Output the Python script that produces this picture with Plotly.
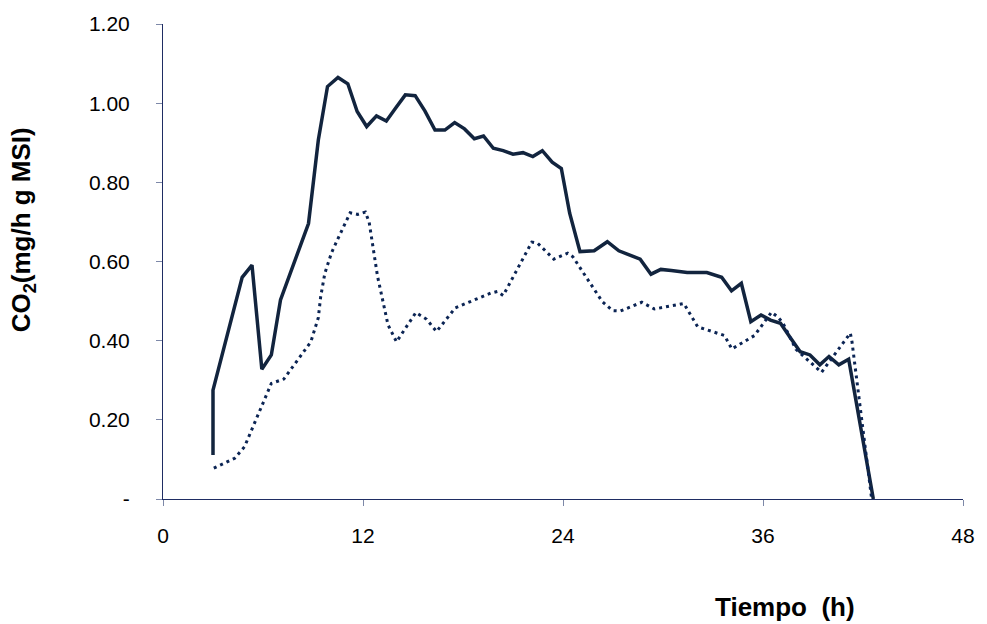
import plotly.graph_objects as go

# Solid curve: CO2 production rate over time
hours_a = [3.0, 3.0, 4.75, 5.34, 5.93, 6.50, 7.05, 8.73, 9.32, 9.87, 10.50, 11.09,
           11.65, 12.22, 12.81, 13.40, 13.95, 14.54, 15.13, 15.72, 16.32, 16.91,
           17.50, 18.09, 18.68, 19.23, 19.82, 20.41, 21.00, 21.60, 22.19, 22.76,
           23.35, 23.90, 24.40, 25.02, 25.87, 26.66, 27.35, 28.63, 29.28, 29.87,
           30.50, 31.45, 32.63, 33.52, 34.11, 34.70, 35.27, 35.88, 36.45, 37.05,
           37.60, 38.23, 38.82, 39.41, 39.96, 40.55, 41.14, 42.62]
co2_a = [0.111, 0.275, 0.560, 0.591, 0.328, 0.364, 0.503, 0.696, 0.907, 1.042, 1.065,
         1.049, 0.979, 0.941, 0.968, 0.955, 0.987, 1.021, 1.019, 0.980, 0.932, 0.932,
         0.951, 0.935, 0.910, 0.917, 0.886, 0.880, 0.871, 0.875, 0.865, 0.880, 0.851,
         0.835, 0.722, 0.625, 0.627, 0.650, 0.627, 0.606, 0.568, 0.580, 0.577, 0.572,
         0.572, 0.560, 0.526, 0.545, 0.448, 0.465, 0.452, 0.444, 0.410, 0.372, 0.364,
         0.339, 0.360, 0.339, 0.353, 0.0]

# Dotted curve: second treatment
hours_b = [3.05, 3.47, 3.90, 4.30, 4.89, 6.50, 7.25, 8.87, 9.32, 9.46, 9.71, 10.11,
           10.50, 11.23, 11.68, 12.14, 12.37, 12.87, 13.50, 14.01, 15.17, 15.82,
           16.41, 17.54, 19.66, 20.06, 20.41, 22.13, 22.48, 23.45, 24.28, 24.59,
           26.35, 26.97, 27.45, 28.73, 29.48, 30.40, 31.25, 32.08, 33.69, 34.13,
           35.49, 36.51, 36.91, 37.20, 37.98, 39.51, 41.24, 41.34, 42.52]
co2_b = [0.078, 0.086, 0.094, 0.103, 0.132, 0.292, 0.303, 0.397, 0.458, 0.511, 0.570,
         0.622, 0.658, 0.723, 0.719, 0.725, 0.699, 0.563, 0.440, 0.397, 0.471, 0.454,
         0.423, 0.483, 0.520, 0.524, 0.514, 0.649, 0.646, 0.606, 0.621, 0.612,
         0.499, 0.476, 0.475, 0.497, 0.480, 0.487, 0.494, 0.435, 0.413, 0.379,
         0.413, 0.472, 0.459, 0.444, 0.378, 0.320, 0.419, 0.397, 0.0]

x_ticks = [0, 12, 24, 36, 48]
x_tick_text = ["0", "12", "24", "36", "48"]
y_ticks = [0, 0.2, 0.4, 0.6, 0.8, 1.0, 1.2]
y_tick_text = ["-", "0.20", "0.40", "0.60", "0.80", "1.00", "1.20"]

FONT = "Liberation Sans, Arial, sans-serif"
AXIS_COLOR = "#1f2d63"

fig = go.Figure()
fig.add_trace(go.Scatter(
    x=hours_a, y=co2_a, mode="lines",
    line=dict(color="#12243e", width=3.5),
    showlegend=False,
))
fig.add_trace(go.Scatter(
    x=hours_b, y=co2_b, mode="lines",
    line=dict(color="#0b2454", width=3, dash="3px,4px"),
    showlegend=False,
))

fig.update_layout(
    width=987, height=624,
    margin=dict(l=163, r=12, t=24, b=125),
    paper_bgcolor="white", plot_bgcolor="white",
    font=dict(family=FONT, size=21, color="black"),
    xaxis=dict(
        range=[0, 48], tickvals=x_ticks, ticktext=x_tick_text,
        showgrid=False, zeroline=False,
        showline=True, linecolor=AXIS_COLOR, linewidth=1,
        ticks="outside", ticklen=6, tickcolor="#7d88a8", tickwidth=1,
        ticklabelstandoff=12,
    ),
    yaxis=dict(
        range=[0, 1.2], tickvals=y_ticks, ticktext=y_tick_text,
        showgrid=False, zeroline=False,
        showline=True, linecolor=AXIS_COLOR, linewidth=1,
        ticks="outside", ticklen=6, tickcolor="#7d88a8", tickwidth=1,
        ticklabelstandoff=22,
    ),
    annotations=[
        dict(text="<b>CO<sub>2</sub>(mg/h g MSI)</b>", textangle=-90,
             xref="paper", yref="paper", x=-0.176, y=0.566,
             xanchor="center", yanchor="middle", showarrow=False,
             font=dict(family=FONT, size=26, color="black")),
        dict(text="<b>Tiempo\u00a0\u00a0(h)</b>",
             xref="paper", yref="paper", x=0.778, y=-0.228,
             xanchor="center", yanchor="middle", showarrow=False,
             font=dict(family=FONT, size=26, color="black")),
    ],
)

fig.write_html("out.html")
